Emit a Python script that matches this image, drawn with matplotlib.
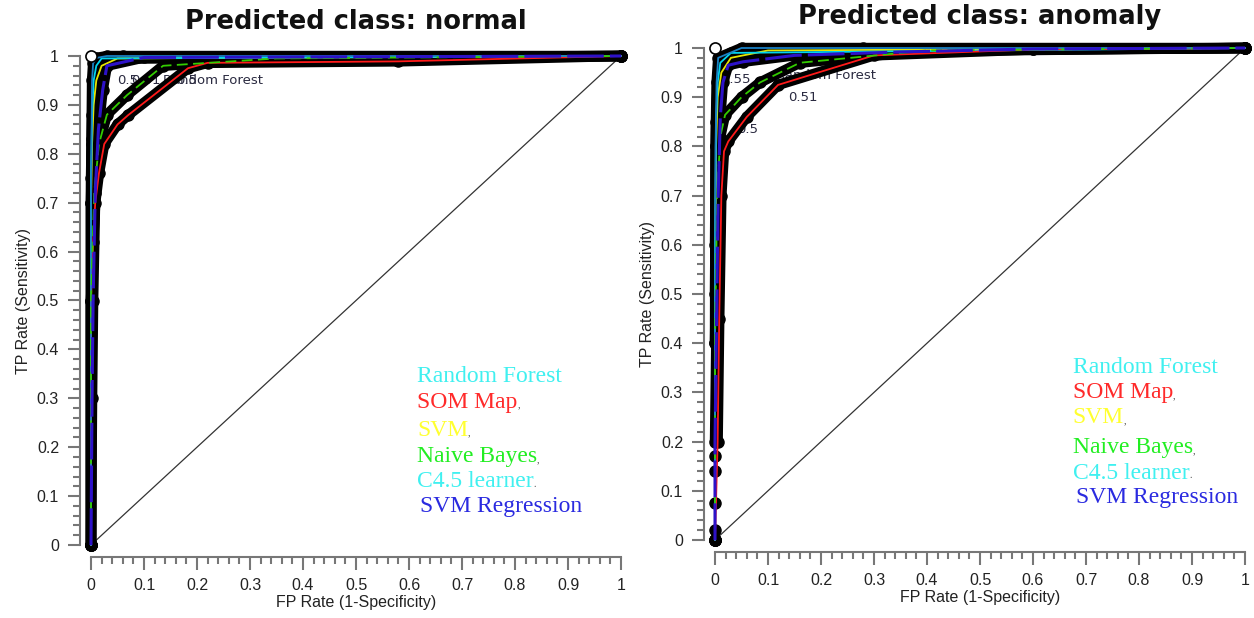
import matplotlib
matplotlib.use("Agg")
import matplotlib.pyplot as plt
from matplotlib.ticker import MultipleLocator, FormatStrFormatter

# ---- data: predicted class normal ----
rf_norm_fpr = [0, 0, 0.001, 0.002, 0.004, 0.01, 0.03, 0.06, 1]
rf_norm_tpr = [0, 0.7, 0.83, 0.95, 0.985, 0.996, 1, 1, 1]
som_norm_fpr = [0, 0, 0.004, 0.008, 0.015, 0.025, 0.05, 0.07, 0.183, 0.22, 0.58, 1]
som_norm_tpr = [0, 0.5, 0.62, 0.7, 0.76, 0.82, 0.86, 0.879, 0.975, 0.986, 0.989, 1]
svm_norm_fpr = [0, 0, 0.002, 0.005, 0.01, 0.02, 0.05, 1]
svm_norm_tpr = [0, 0.7, 0.82, 0.9, 0.95, 0.98, 0.995, 1]
nb_norm_fpr = [0, 0, 0.006, 0.015, 0.03, 0.068, 0.136, 0.35, 1]
nb_norm_tpr = [0, 0.5, 0.72, 0.82, 0.88, 0.92, 0.98, 0.995, 1]
c45_norm_fpr = [0, 0, 0.002, 0.005, 0.01, 0.02, 1]
c45_norm_tpr = [0, 0.75, 0.88, 0.95, 0.98, 0.995, 1]
svmr_norm_fpr = [0, 0.002, 0.004, 0.008, 0.014, 0.022, 0.03, 0.1, 1]
svmr_norm_tpr = [0, 0.3, 0.5, 0.72, 0.85, 0.93, 0.98, 0.997, 1]

# ---- data: predicted class anomaly ----
rf_anom_fpr = [0, 0, 0.001, 0.003, 0.006, 0.05, 0.28, 1]
rf_anom_tpr = [0, 0.4, 0.8, 0.93, 0.98, 1, 1, 1]
som_anom_fpr = [0, 0.005, 0.008, 0.012, 0.017, 0.025, 0.06, 0.119, 0.3, 0.6, 1]
som_anom_tpr = [0, 0.2, 0.45, 0.7, 0.79, 0.81, 0.86, 0.925, 0.985, 0.997, 1]
svm_anom_fpr = [0, 0, 0.002, 0.005, 0.012, 0.03, 0.1, 1]
svm_anom_tpr = [0, 0.5, 0.8, 0.9, 0.95, 0.98, 0.995, 1]
nb_anom_fpr = [0, 0, 0.004, 0.01, 0.019, 0.05, 0.085, 0.16, 0.4, 1]
nb_anom_tpr = [0, 0.4, 0.7, 0.82, 0.864, 0.9, 0.93, 0.97, 0.995, 1]
c45_anom_fpr = [0, 0, 0.002, 0.005, 0.01, 0.03, 1]
c45_anom_tpr = [0, 0.6, 0.85, 0.93, 0.97, 0.99, 1]
svmr_anom_fpr = [0, 0, 0, 0, 0, 0, 0.003, 0.006, 0.01, 0.015, 0.025, 0.053, 0.15, 0.35, 0.6, 1]
svmr_anom_tpr = [0, 0.02, 0.075, 0.14, 0.17, 0.2, 0.45, 0.7, 0.86, 0.93, 0.965, 0.972, 0.985, 0.992, 0.998, 1]

names = ["Random Forest", "SOM Map", "SVM", "Naive Bayes", "C4.5 learner", "SVM Regression"]
legend_suffix = ["", ",", ",", ",", ".", ""]
line_colors = ["#1a80c4", "#ff1a1a", "#e6e600", "#33cc00", "#00d5f0", "#2d12c8"]
line_dashes = [None, None, None, (6, 3), None, (12, 2)]
line_widths = [1.3, 1.3, 1.3, 1.3, 1.3, 2.2]
line_z = [5.3, 5.2, 5.0, 5.4, 5.1, 5.6]
legend_colors = ["#40f0f0", "#ff2a2a", "#ffff30", "#22ee22", "#40f0f0", "#2a2ae0"]

panels = [
    {
        "title": "Predicted class: normal",
        "curves": [(rf_norm_fpr, rf_norm_tpr), (som_norm_fpr, som_norm_tpr),
                   (svm_norm_fpr, svm_norm_tpr), (nb_norm_fpr, nb_norm_tpr),
                   (c45_norm_fpr, c45_norm_tpr), (svmr_norm_fpr, svmr_norm_tpr)],
        "rect": [91/1254, 73/618, 530/1254, 489/618],
        "band_min": 0.0,
        "legend_x": 0.615, "legend_y": [0.344, 0.292, 0.235, 0.18, 0.129, 0.078],
        "labels": [("0.5", 0.05, 0.949), ("0.51", 0.075, 0.949), ("0.5", 0.16, 0.949),
                   ("Random Forest", 0.136, 0.949)],
        "title_y": 1 - 22/618,
    },
    {
        "title": "Predicted class: anomaly",
        "curves": [(rf_anom_fpr, rf_anom_tpr), (som_anom_fpr, som_anom_tpr),
                   (svm_anom_fpr, svm_anom_tpr), (nb_anom_fpr, nb_anom_tpr),
                   (c45_anom_fpr, c45_anom_tpr), (svmr_anom_fpr, svmr_anom_tpr)],
        "rect": [715/1254, 78/618, 530/1254, 492/618],
        "band_min": 0.2,
        "legend_x": 0.675, "legend_y": [0.35, 0.299, 0.248, 0.187, 0.136, 0.087],
        "labels": [("0.55", 0.012, 0.935), ("Random Forest", 0.115, 0.945),
                   ("0.51", 0.138, 0.9), ("0.5", 0.042, 0.835)],
        "title_y": 1 - 17/618,
    },
]

plt.rcParams["font.family"] = ["Liberation Sans", "DejaVu Sans"]
fig = plt.figure(figsize=(12.54, 6.18), dpi=100)

for p in panels:
    ax = fig.add_axes(p["rect"])
    ax.set_xlim(0, 1)
    ax.set_ylim(0, 1)

    # diagonal
    ax.plot([0, 1], [0, 1], color="#333333", lw=0.9, zorder=1)

    for fpr, tpr in p["curves"]:
        bx = [x for x, y in zip(fpr, tpr) if y >= p["band_min"]]
        by = [y for y in tpr if y >= p["band_min"]]
        ax.plot(bx, by, color="black", lw=7.5, solid_capstyle="round",
                solid_joinstyle="round", zorder=3, clip_on=False)
        ax.plot(fpr, tpr, "o", color="black", ms=8, zorder=3, clip_on=False)
    for (fpr, tpr), col, dash, lw, z in zip(p["curves"], line_colors, line_dashes,
                                            line_widths, line_z):
        ln, = ax.plot(fpr, tpr, color=col, lw=lw, zorder=z, clip_on=False)
        if dash:
            ln.set_dashes(dash)

    ax.plot([0], [1], "o", ms=8, mfc="white", mec="black", mew=1.2, zorder=6, clip_on=False)

    for txt, x, y in p["labels"]:
        ax.text(x, y, txt, fontsize=9.5, family="DejaVu Sans", color="#2a2a40",
                va="center", ha="left", zorder=2)

    for name, suf, col, y in zip(names, legend_suffix, legend_colors, p["legend_y"]):
        xx = p["legend_x"] + (0.006 if name == "SVM Regression" else 0)
        t = ax.text(xx, y, name, fontsize=17, family="Liberation Serif", color=col,
                    va="center", ha="left", zorder=7)
        if suf:
            ax.annotate(suf, xy=(1, 0.15), xycoords=t, fontsize=7, color="#444444",
                        family="Liberation Serif", ha="left", va="bottom")

    for s in ["top", "right"]:
        ax.spines[s].set_visible(False)
    ax.spines["left"].set_position(("outward", 8))
    ax.spines["bottom"].set_position(("outward", 8.5))
    for s in ["left", "bottom"]:
        ax.spines[s].set_color("#777777")
        ax.spines[s].set_linewidth(1.5)

    for axis in [ax.xaxis, ax.yaxis]:
        axis.set_major_locator(MultipleLocator(0.1))
        axis.set_minor_locator(MultipleLocator(0.02))
        axis.set_major_formatter(FormatStrFormatter("%g"))
    ax.tick_params(which="major", length=9, width=1.5, color="#777777",
                   labelsize=11.5, labelcolor="#222222", pad=6)
    ax.tick_params(which="minor", length=5, width=1.5, color="#777777")

    ax.set_xlabel("FP Rate (1-Specificity)", fontsize=11.5, color="#222222", labelpad=2)
    ax.set_ylabel("TP Rate (Sensitivity)", fontsize=11.5, color="#222222", labelpad=4)

    cx = p["rect"][0] + p["rect"][2] / 2
    fig.text(cx, p["title_y"], p["title"], fontsize=18.5, fontweight="bold",
             family="DejaVu Sans", ha="center", va="center", color="#111111")

fig.savefig("out.png", dpi=100)
